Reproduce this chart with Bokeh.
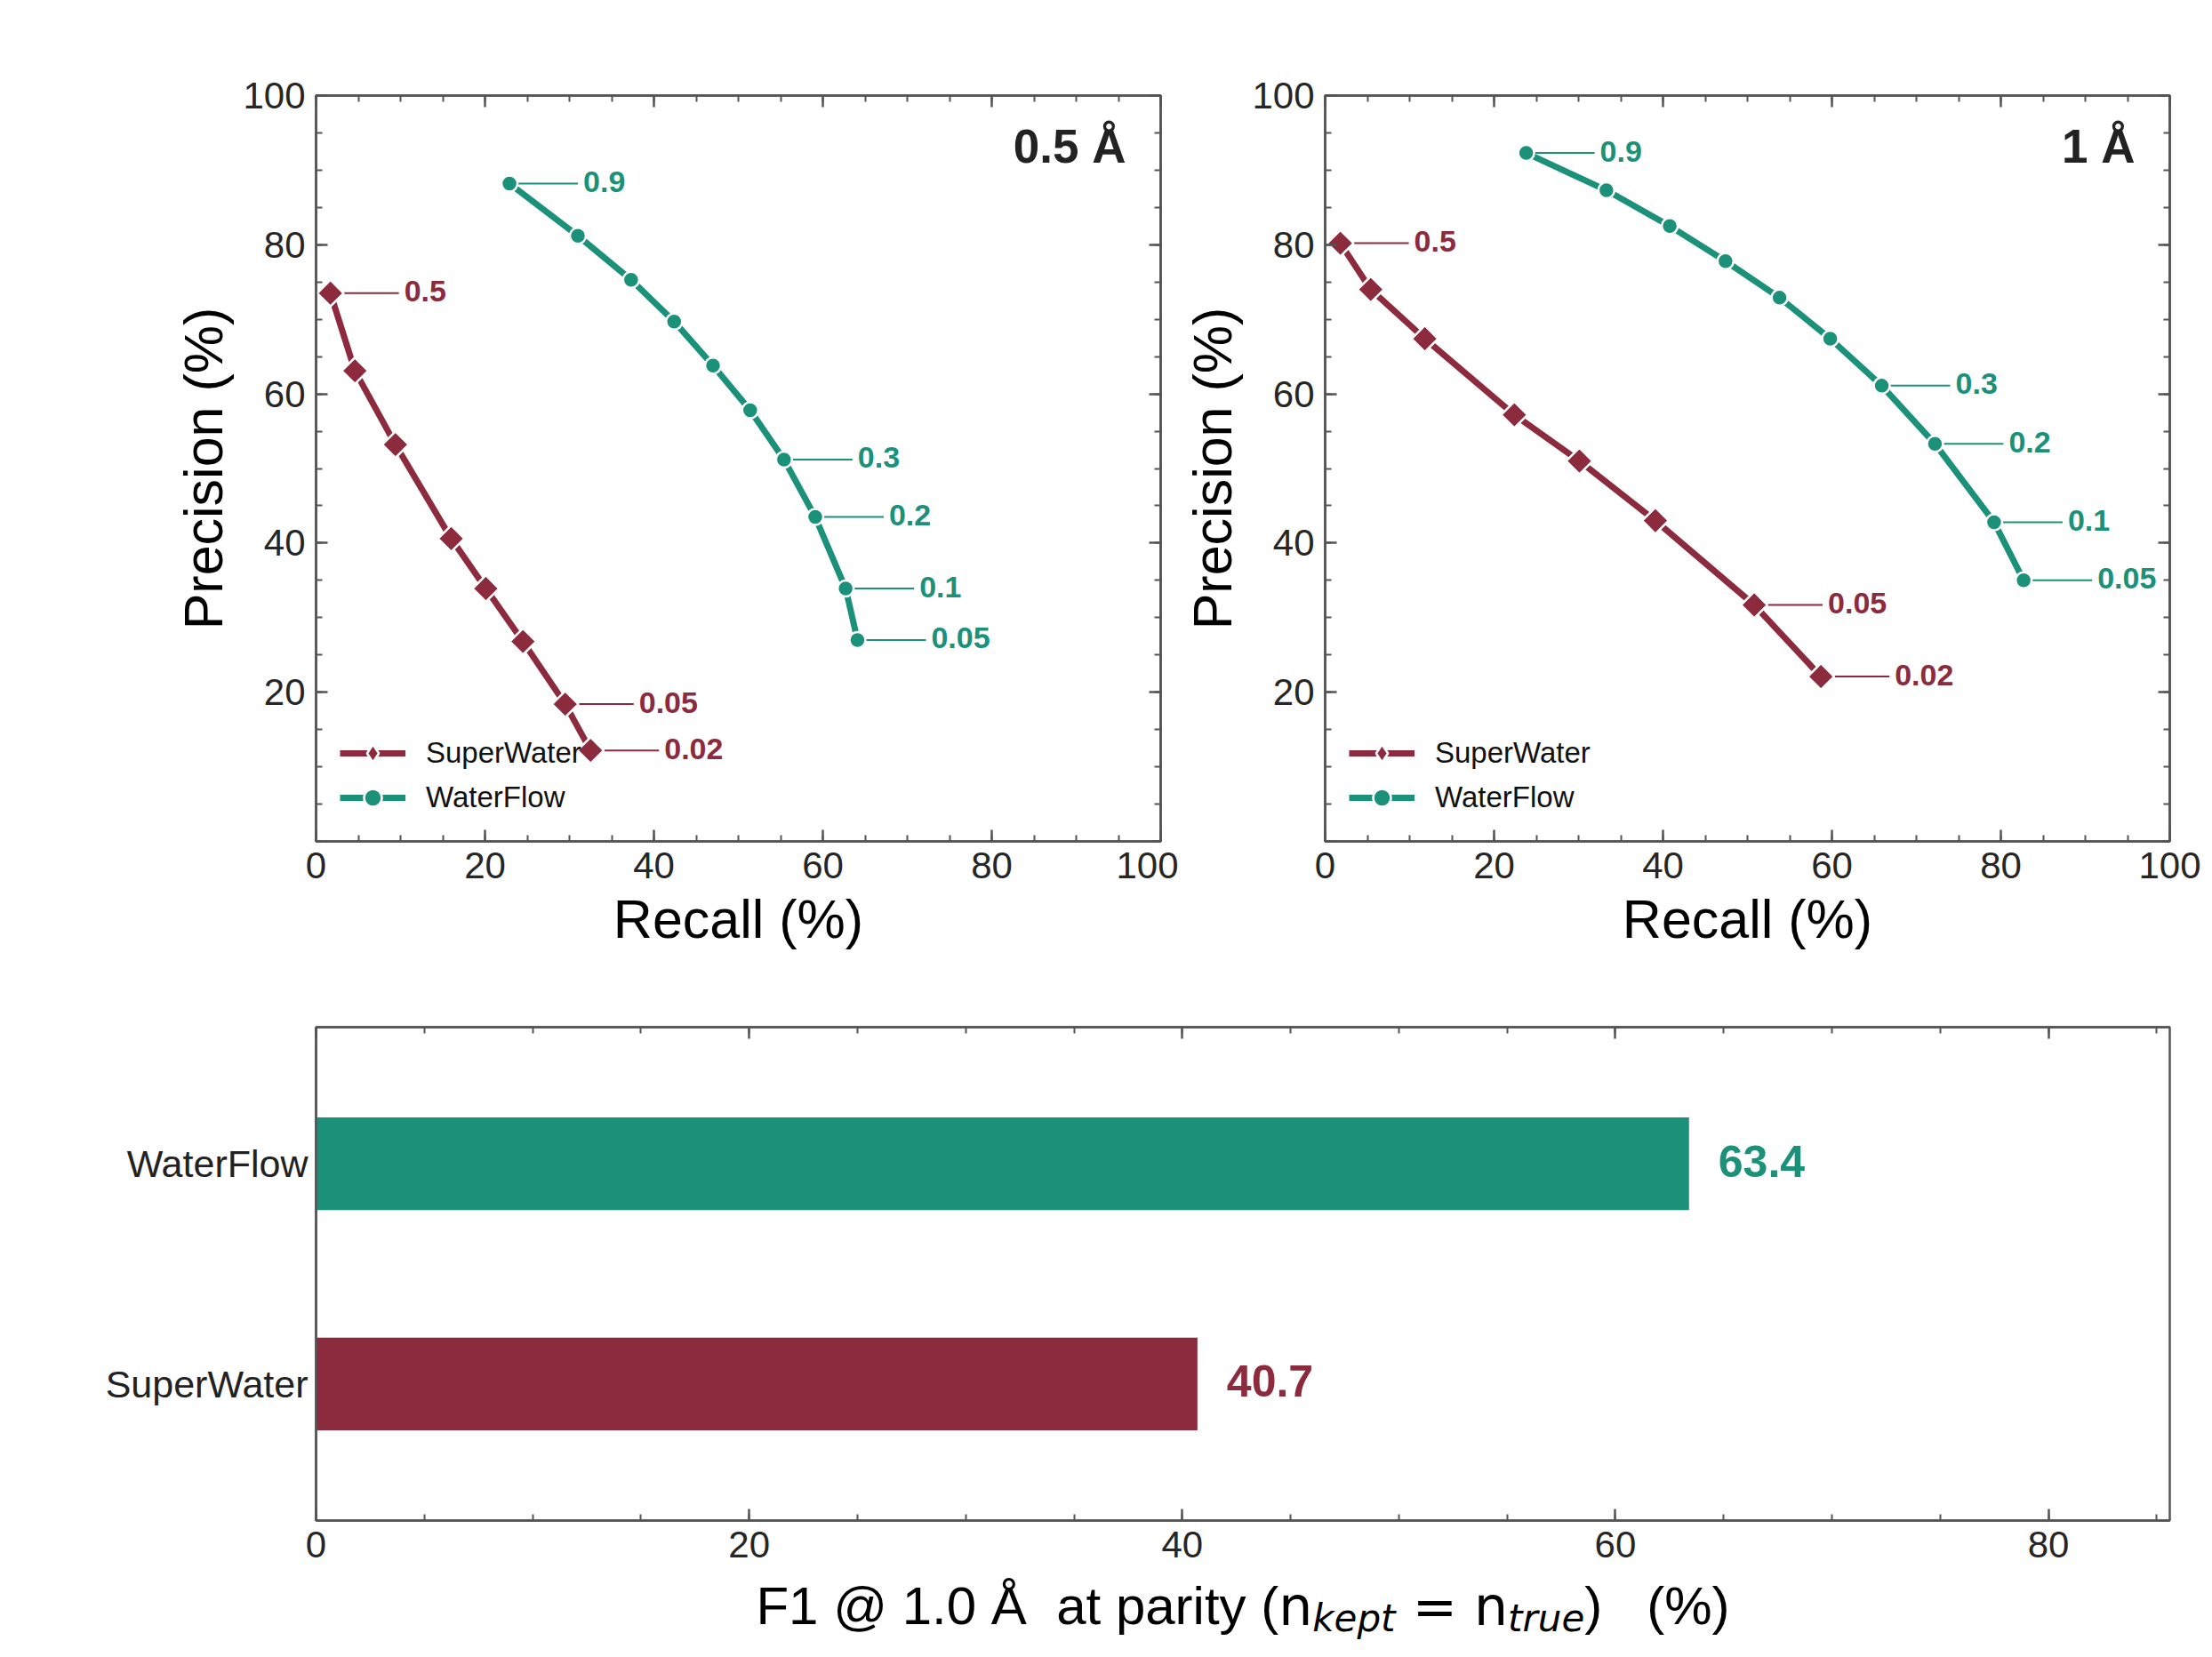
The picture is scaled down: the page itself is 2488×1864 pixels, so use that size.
import numpy as np
from bokeh.plotting import figure
from bokeh.models import (Range1d, FixedTicker, LinearAxis, Legend, LegendItem,
                          Label, CustomJSTickFormatter)
from bokeh.layouts import column, row
from bokeh.embed import file_html
from bokeh.resources import INLINE
from bokeh.core.properties import value

# ---------------- data ----------------
# 0.5 Å panel
sw05_recall = [1.7, 4.6, 9.4, 16.0, 20.1, 24.5, 29.5, 32.5]
sw05_prec = [73.5, 63.1, 53.2, 40.6, 33.9, 26.8, 18.4, 12.2]
sw05_lab_idx = [0, 6, 7]
sw05_lab = ["0.5", "0.05", "0.02"]
wf05_recall = [22.9, 31.0, 37.3, 42.4, 47.0, 51.4, 55.4, 59.1, 62.7, 64.1]
wf05_prec = [88.2, 81.2, 75.3, 69.7, 63.8, 57.8, 51.2, 43.5, 33.9, 27.0]
wf05_lab_idx = [0, 6, 7, 8, 9]
wf05_lab = ["0.9", "0.3", "0.2", "0.1", "0.05"]

# 1 Å panel
sw10_recall = [1.8, 5.4, 11.8, 22.4, 30.1, 39.1, 50.8, 58.7]
sw10_prec = [80.2, 74.0, 67.4, 57.2, 51.0, 43.0, 31.7, 22.1]
sw10_lab_idx = [0, 6, 7]
sw10_lab = ["0.5", "0.05", "0.02"]
wf10_recall = [23.8, 33.3, 40.8, 47.4, 53.8, 59.8, 65.9, 72.2, 79.2, 82.7]
wf10_prec = [92.3, 87.3, 82.5, 77.8, 72.9, 67.4, 61.1, 53.3, 42.8, 35.0]
wf10_lab_idx = [0, 6, 7, 8, 9]
wf10_lab = ["0.9", "0.3", "0.2", "0.1", "0.05"]

# F1 bar panel
f1_methods = ["SuperWater", "WaterFlow"]
f1_values = [40.7, 63.4]

pr_ticks = [0, 20, 40, 60, 80, 100]
pr_yticks = [20, 40, 60, 80, 100]
pr_minor = list(range(0, 101, 5))
f1_ticks = [0, 20, 40, 60, 80]
f1_minor = list(range(0, 86, 5))

# ---------------- style ----------------
TEAL = "#1b917a"
MAROON = "#8c2a3e"
AX = "#555555"
TXT = "#262626"
FONT = "Liberation Sans"


def style_axis(ax, labels=True):
    ax.axis_line_color = AX
    ax.axis_line_width = 2.5
    ax.major_tick_line_color = AX
    ax.major_tick_line_width = 2.5
    ax.minor_tick_line_color = AX
    ax.minor_tick_line_width = 2
    ax.major_tick_in = 13
    ax.major_tick_out = 0
    ax.minor_tick_in = 7
    ax.minor_tick_out = 0
    ax.major_label_text_font = FONT
    ax.major_label_text_font_size = "42px"
    ax.major_label_text_color = TXT
    ax.major_label_standoff = 12
    ax.axis_label_text_font = FONT
    ax.axis_label_text_font_size = "61px"
    ax.axis_label_text_font_style = "normal"
    ax.axis_label_text_color = "#000000"
    if not labels:
        ax.formatter = CustomJSTickFormatter(code="return ''")
        ax.major_label_standoff = 0


def pr_panel(title, sw_x, sw_y, sw_li, sw_lt, wf_x, wf_y, wf_li, wf_lt,
             width, mbl, mbr):
    p = figure(width=width, height=1096, x_range=Range1d(0, 100),
               y_range=Range1d(0, 100), output_backend="svg",
               toolbar_location=None, min_border_left=mbl,
               min_border_right=mbr, min_border_top=107, min_border_bottom=150)
    p.grid.visible = False
    p.outline_line_color = AX
    p.outline_line_width = 2.5
    p.background_fill_color = "white"
    p.border_fill_color = "white"

    p.xaxis.ticker = FixedTicker(ticks=pr_ticks, minor_ticks=pr_minor)
    p.yaxis.ticker = FixedTicker(ticks=pr_yticks, minor_ticks=pr_minor)
    p.xaxis.axis_label = "Recall (%)"
    p.yaxis.axis_label = "Precision (%)"
    for ax in p.xaxis + p.yaxis:
        style_axis(ax)
    p.xaxis.axis_label_standoff = 9
    p.yaxis.axis_label_standoff = 7

    top = LinearAxis(ticker=FixedTicker(ticks=pr_ticks, minor_ticks=pr_minor))
    right = LinearAxis(ticker=FixedTicker(ticks=pr_yticks, minor_ticks=pr_minor))
    style_axis(top, labels=False)
    style_axis(right, labels=False)
    p.add_layout(top, "above")
    p.add_layout(right, "right")

    items = []
    for xs, ys, li, lt, col, marker, msize, ang, leg_marker, leg_size, name in [
        (sw_x, sw_y, sw_li, sw_lt, MAROON, "square", 21, np.pi / 4, "diamond", 20, "SuperWater"),
        (wf_x, wf_y, wf_li, wf_lt, TEAL, "circle", 18, 0, "circle", 17, "WaterFlow"),
    ]:
        lx = [xs[i] for i in li]
        ly = [ys[i] for i in li]
        p.ray(x=lx, y=ly, length=77, angle=0, length_units="screen",
              line_color=col, line_width=2)
        lr = p.line(xs, ys, line_color=col, line_width=7, line_join="round")
        # legend sample marker (sits hidden beneath the first data marker)
        legm = p.scatter(x=xs[:1], y=ys[:1], marker=leg_marker, size=leg_size,
                         fill_color=col, line_color="white", line_width=2.5)
        p.scatter(xs, ys, marker=marker, size=msize, angle=ang,
                  fill_color=col, line_color="white", line_width=2.5)
        p.text(x=lx, y=ly, text=lt, x_offset=83, y_offset=-2,
               text_baseline="middle", text_align="left",
               text_font=value(FONT), text_font_style="bold",
               text_font_size="34px", text_color=col)
        items.append(LegendItem(label=name, renderers=[lr, legm]))

    leg = Legend(items=items, location=(27, 24), padding=0, margin=0,
                 spacing=-2, glyph_width=74, glyph_height=50, label_height=40,
                 label_standoff=23, label_text_font=FONT,
                 label_text_font_size="33px", label_text_color="#111111",
                 border_line_alpha=0, background_fill_alpha=0)
    p.add_layout(leg)

    p.add_layout(Label(x=100, y=100, x_offset=-39, y_offset=-57, text=title,
                       text_align="right", text_baseline="middle",
                       text_font=FONT, text_font_style="bold",
                       text_font_size="53px", text_color="#222222"))
    return p


p1 = pr_panel("0.5 Å", sw05_recall, sw05_prec, sw05_lab_idx, sw05_lab,
              wf05_recall, wf05_prec, wf05_lab_idx, wf05_lab,
              width=1325, mbl=355, mbr=20)
p2 = pr_panel("1 Å", sw10_recall, sw10_prec, sw10_lab_idx, sw10_lab,
              wf10_recall, wf10_prec, wf10_lab_idx, wf10_lab,
              width=1155, mbl=165, mbr=40)

# ---------------- bar panel ----------------
x_end = 85.6
p3 = figure(width=2480, height=674, x_range=Range1d(0, x_end),
            y_range=Range1d(-0.62, 1.62), output_backend="svg",
            toolbar_location=None, min_border_left=355, min_border_right=40,
            min_border_top=59, min_border_bottom=60)
p3.grid.visible = False
p3.outline_line_color = AX
p3.outline_line_width = 2.5

ypos = list(range(len(f1_methods)))
bar_colors = [MAROON, TEAL]
p3.hbar(y=ypos, left=0, right=f1_values, height=0.42, fill_color=bar_colors,
        line_color=None)
p3.text(x=f1_values, y=ypos, text=[f"{v:.1f}" for v in f1_values],
        x_offset=33, y_offset=-3, text_baseline="middle", text_align="left",
        text_font=value(FONT), text_font_style="bold", text_font_size="50px",
        text_color=bar_colors)

p3.xaxis.ticker = FixedTicker(ticks=f1_ticks, minor_ticks=f1_minor)
style_axis(p3.xaxis[0])
p3.yaxis.ticker = FixedTicker(ticks=ypos)
style_axis(p3.yaxis[0])
p3.yaxis.major_label_overrides = {i: n for i, n in enumerate(f1_methods)}
p3.yaxis.major_tick_in = 0
p3.yaxis.minor_tick_line_color = None
p3.yaxis.major_label_standoff = 9
p3.yaxis.major_label_text_font_size = "43px"
p3.yaxis.major_label_text_color = "#222222"

top3 = LinearAxis(ticker=FixedTicker(ticks=f1_ticks, minor_ticks=f1_minor))
style_axis(top3, labels=False)
p3.add_layout(top3, "above")

# ---------------- strip holding the composite x-axis label ----------------
p4 = figure(width=2480, height=90, x_range=p3.x_range, y_range=Range1d(0, 90),
            output_backend="svg", toolbar_location=None, min_border_left=355,
            min_border_right=40, min_border_top=0, min_border_bottom=0,
            x_axis_type=None, y_axis_type=None)
p4.grid.visible = False
p4.outline_line_color = None

LS_W = {'F': 611, '1': 556, ' ': 278, '@': 1015, '.': 278, '0': 556, 'Å': 667,
        'a': 556, 't': 278, 'p': 556, 'r': 333, 'i': 222, 'y': 500, '(': 333,
        ')': 333, '%': 889}
DV_W = {'n': 634, '=': 838, ' ': 318}
DVO_W = {'k': 579, 'e': 615, 'p': 635, 't': 392, 'r': 411, 'u': 634}
FAM = {"LS": (FONT, "normal", LS_W), "DV": ("DejaVu Sans", "normal", DV_W),
       "DVO": ("DejaVu Sans", "italic", DVO_W)}
# (text, family, size, vertical centre in strip units, visible)
MAIN_Y, SUB_Y = 54, 40
pieces = [
    ("F1 @ 1.0 Å", "LS", 60, MAIN_Y, True),
    ("  ", "LS", 60, MAIN_Y, False),
    ("at parity (", "LS", 60, MAIN_Y, True),
    ("n", "DV", 60, MAIN_Y, True),
    ("kept", "DVO", 42, SUB_Y, True),
    (" ", "DV", 60, MAIN_Y, False),
    ("=", "DV", 60, MAIN_Y, True),
    (" ", "DV", 60, MAIN_Y, False),
    ("n", "DV", 60, MAIN_Y, True),
    ("true", "DVO", 42, SUB_Y, True),
    (")", "LS", 60, MAIN_Y, True),
    ("   ", "LS", 60, MAIN_Y, False),
    ("(%)", "LS", 60, MAIN_Y, True),
]
widths = [sum(FAM[f][2][c] for c in t) * s / 1000 for t, f, s, yy, v in pieces]
total = sum(widths)
cur = -total / 2
for (t, f, s, yy, vis), w in zip(pieces, widths):
    if vis:
        fam, sty, _ = FAM[f]
        p4.add_layout(Label(x=x_end / 2, y=yy, x_offset=cur, y_offset=0,
                            text=t, text_align="left", text_baseline="middle",
                            text_font=fam, text_font_style=sty,
                            text_font_size=f"{s}px", text_color="#000000"))
    cur += w

layout = column(row(p1, p2), p3, p4)
open("out.html", "w").write(file_html(layout, INLINE))
